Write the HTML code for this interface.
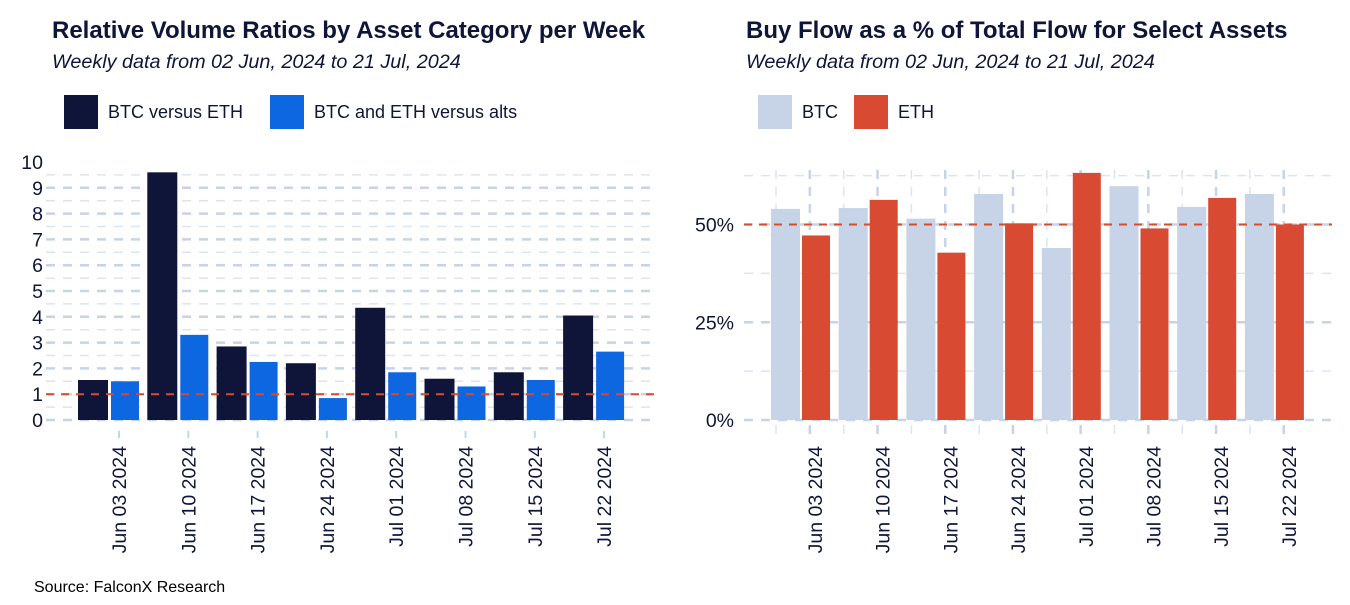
<!DOCTYPE html>
<html><head><meta charset="utf-8"><style>
body{margin:0;background:#fff;width:1350px;height:600px;overflow:hidden;font-family:"Liberation Sans",Arial,sans-serif}
svg text{font-family:"Liberation Sans",Arial,sans-serif}
</style></head><body>
<svg id="c" width="1350" height="600" xmlns="http://www.w3.org/2000/svg">
<g>
<text x="52" y="38" font-size="24" font-weight="bold" fill="#0f1538">Relative Volume Ratios by Asset Category per Week</text>
<text x="52" y="68" font-size="19.8" font-style="italic" fill="#0f1538">Weekly data from 02 Jun, 2024 to 21 Jul, 2024</text>
<rect x="64" y="95" width="34" height="34" fill="#0f1538"/>
<text x="108" y="118" font-size="18" fill="#0f1538">BTC versus ETH</text>
<rect x="270" y="95" width="34" height="34" fill="#0d67e0"/>
<text x="314" y="118" font-size="18" fill="#0f1538">BTC and ETH versus alts</text>
</g>
<g>
<text x="746" y="38" font-size="24" font-weight="bold" fill="#0f1538">Buy Flow as a % of Total Flow for Select Assets</text>
<text x="746" y="68" font-size="19.8" font-style="italic" fill="#0f1538">Weekly data from 02 Jun, 2024 to 21 Jul, 2024</text>
<rect x="758" y="95" width="34" height="34" fill="#c7d3e6"/>
<text x="802" y="118" font-size="18" fill="#0f1538">BTC</text>
<rect x="854" y="95" width="34" height="34" fill="#d84a31"/>
<text x="898" y="118" font-size="18" fill="#0f1538">ETH</text>
</g>
<text x="34" y="592" font-size="16" fill="#000">Source: FalconX Research</text>
<g id="L"></g>
<g id="R"></g>
</svg>
<script>
const categories=["Jun 03 2024","Jun 10 2024","Jun 17 2024","Jun 24 2024","Jul 01 2024","Jul 08 2024","Jul 15 2024","Jul 22 2024"];
const btcVsEth=[1.55,9.6,2.85,2.2,4.35,1.6,1.85,4.05];
const btcEthVsAlts=[1.5,3.3,2.25,0.85,1.85,1.3,1.55,2.65];
const leftTicks=[0,1,2,3,4,5,6,7,8,9,10];
const btcBuy=[54,54.2,51.5,57.8,44,59.8,54.5,57.8];
const ethBuy=[47.2,56.3,42.8,50.3,63.2,49,56.8,50];
const rightTicks=[0,25,50];
const NS="http://www.w3.org/2000/svg";
function mk(p,t,a){const e=document.createElementNS(NS,t);for(const k in a)e.setAttribute(k,a[k]);p.appendChild(e);return e;}
const L=document.getElementById('L'),R=document.getElementById('R');
const ly=v=>420-v*25.8, lx=i=>119+i*69.3;
for(let v=0;v<=9.5;v+=0.5){const g=mk(L,'line',{x1:46,x2:656,y1:ly(v),y2:ly(v),stroke:v%1?'#dde4f0':'#c7d3e6','stroke-width':v%1?1.5:2.5,'stroke-dasharray':'9 8'});}
leftTicks.forEach(v=>{const t=mk(L,'text',{x:43,y:ly(v)+7,'text-anchor':'end','font-size':19.5,fill:'#0f1538'});t.textContent=v;});
categories.forEach((c,i)=>{
 const tk=mk(L,'line',{x1:lx(i),x2:lx(i),y1:431,y2:438,stroke:'#c7d3e6','stroke-width':2});
 const a=mk(L,'rect',{x:lx(i)-41,y:ly(btcVsEth[i]),width:30,height:btcVsEth[i]*25.8,fill:'#0f1538'});
 const b=mk(L,'rect',{x:lx(i)-8,y:ly(btcEthVsAlts[i]),width:28,height:btcEthVsAlts[i]*25.8,fill:'#0d67e0'});
 const t=mk(L,'text',{x:0,y:0,'text-anchor':'end','font-size':19.5,fill:'#0f1538',transform:`translate(${lx(i)+7},446) rotate(-90)`});t.textContent=c;
});
const r1=mk(L,'line',{x1:46,x2:656,y1:ly(1),y2:ly(1),stroke:'#d84a31','stroke-width':2,'stroke-dasharray':'8 7'});
const ry=v=>420-v*3.91, rx=i=>810+i*67.7;
for(let k=0;k<16;k++){const x=776+k*33.85;const g=mk(R,'line',{x1:x,x2:x,y1:170,y2:435,stroke:k%2?'#c7d3e6':'#dde4f0','stroke-width':k%2?2.5:1.5,'stroke-dasharray':'9 8'});}
for(let v=0;v<=62.5;v+=12.5){const maj=v%25===0;const g=mk(R,'line',{x1:744,x2:1332,y1:ry(v),y2:ry(v),stroke:maj?'#c7d3e6':'#dde4f0','stroke-width':maj?2.5:1.5,'stroke-dasharray':'9 8'});}
rightTicks.forEach(v=>{const t=mk(R,'text',{x:734,y:ry(v)+7,'text-anchor':'end','font-size':19.5,fill:'#0f1538'});t.textContent=v+'%';});
categories.forEach((c,i)=>{
 const a=mk(R,'rect',{x:rx(i)-39,y:ry(btcBuy[i]),width:29,height:btcBuy[i]*3.91,fill:'#c7d3e6'});
 const b=mk(R,'rect',{x:rx(i)-8,y:ry(ethBuy[i]),width:28,height:ethBuy[i]*3.91,fill:'#d84a31'});
 const t=mk(R,'text',{x:0,y:0,'text-anchor':'end','font-size':19.5,fill:'#0f1538',transform:`translate(${rx(i)+12},446) rotate(-90)`});t.textContent=c;
});
const r2=mk(R,'line',{x1:744,x2:1332,y1:ry(50),y2:ry(50),stroke:'#d84a31','stroke-width':2,'stroke-dasharray':'8 7'});
</script>
</body></html>
